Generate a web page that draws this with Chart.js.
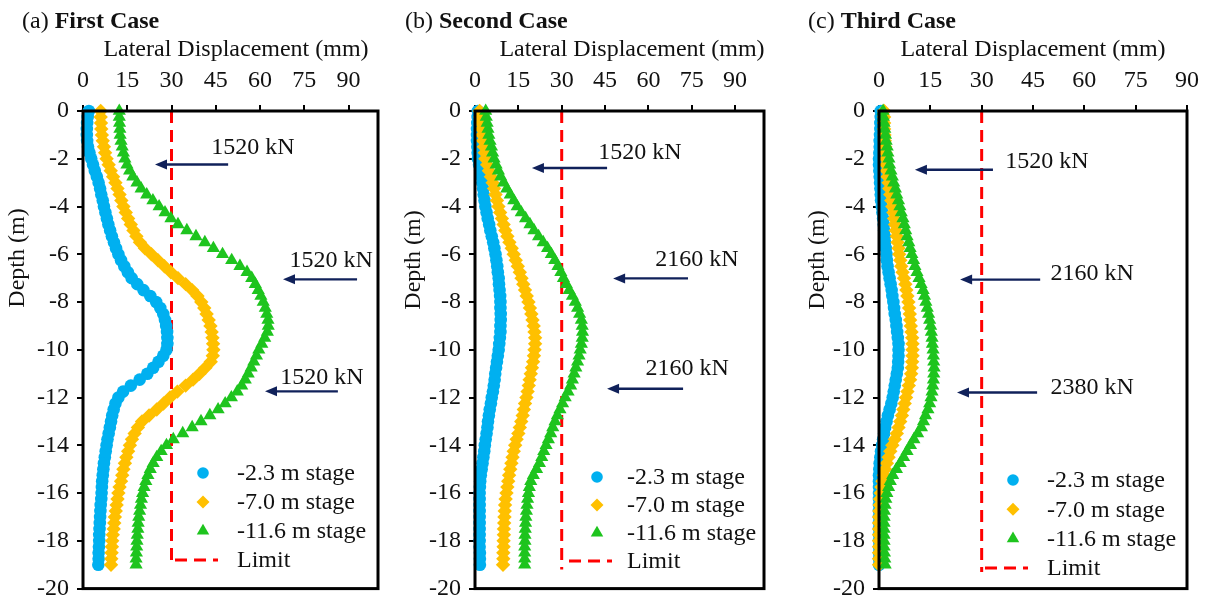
<!DOCTYPE html>
<html>
<head>
<meta charset="utf-8">
<script src="https://cdn.jsdelivr.net/npm/chart.js@4.4.0/dist/chart.umd.min.js"></script>
<style>
  html, body { margin: 0; padding: 0; background: #fff; }
  #wrap { position: relative; width: 1211px; height: 611px; }
  #wrap canvas { position: absolute; top: 0; }
</style>
</head>
<body>
<div id="wrap">
  <canvas id="c1" width="400" height="611" style="left:0px;width:400px;height:611px"></canvas>
  <canvas id="c2" width="400" height="611" style="left:400px;width:400px;height:611px"></canvas>
  <canvas id="c3" width="411" height="611" style="left:800px;width:411px;height:611px"></canvas>
</div>
<script>
// depth of each reading (m)
const depths = [
  0, -0.25, -0.5, -0.75, -1, -1.25, -1.5, -1.75, -2, -2.25, -2.5, -2.75,
  -3, -3.25, -3.5, -3.75, -4, -4.25, -4.5, -4.75, -5, -5.25, -5.5, -5.75,
  -6, -6.25, -6.5, -6.75, -7, -7.25, -7.5, -7.75, -8, -8.25, -8.5, -8.75,
  -9, -9.25, -9.5, -9.75, -10, -10.25, -10.5, -10.75, -11, -11.25, -11.5, -11.75,
  -12, -12.25, -12.5, -12.75, -13, -13.25, -13.5, -13.75, -14, -14.25, -14.5, -14.75,
  -15, -15.25, -15.5, -15.75, -16, -16.25, -16.5, -16.75, -17, -17.25, -17.5, -17.75,
  -18, -18.25, -18.5, -18.75, -19
];

// (a) First Case - lateral displacement (mm)
const firstStage23 = [
  2.0, 1.6, 1.4, 1.3,  1.3, 1.4, 1.7, 2.2,  2.8, 3.4, 4.0, 4.7,  5.3, 5.8, 6.2, 6.7,
  7.1, 7.6, 8.1, 8.6,  9.2, 9.8, 10.5, 11.2,  12.0, 12.9, 14.0, 15.2,  16.5, 18.4, 20.5, 22.8,
  24.8, 26.2, 27.2, 27.8,  28.2, 28.5, 28.6, 28.6,  28.3, 27.2, 25.6, 23.8,  21.8, 19.2, 16.2, 13.6,
  12.0, 11.0, 10.4, 9.9,  9.5, 9.1, 8.7, 8.3,  8.0, 7.7, 7.4, 7.1,  6.9, 6.7, 6.5, 6.4,
  6.3, 6.2, 6.0, 5.9,  5.8, 5.7, 5.6, 5.5,  5.5, 5.4, 5.3, 5.3,  5.2
];
const firstStage70 = [
  6.0, 6.0, 6.1, 6.2,  6.4, 6.7, 7.1, 7.5,  8.0, 8.7, 9.4, 10.2,  11.0, 11.7, 12.4, 13.0,
  13.7, 14.5, 15.3, 16.2,  17.1, 18.1, 19.3, 21.0,  23.2, 25.4, 27.6, 29.8,  32.2, 34.8, 37.0, 38.8,
  40.1, 41.1, 41.9, 42.6,  43.2, 43.6, 43.9, 44.1,  44.2, 44.0, 43.3, 41.5,  39.5, 37.3, 34.8, 32.0,
  29.5, 27.3, 25.0, 22.4,  20.0, 18.6, 17.5, 16.6,  15.9, 15.3, 14.7, 14.2,  13.7, 13.3, 12.9, 12.4,
  12.0, 11.7, 11.4, 11.1,  10.8, 10.6, 10.4, 10.1,  9.9, 9.8, 9.7, 9.6,  9.5
];
const firstStage116 = [
  12.3, 12.3, 12.4, 12.5,  12.6, 12.9, 13.3, 13.7,  14.2, 14.9, 15.8, 16.9,  18.3, 19.7, 21.6, 23.7,
  25.8, 27.8, 29.8, 32.2,  35.2, 38.3, 41.3, 44.2,  47.3, 50.4, 53.2, 55.6,  57.2, 58.4, 59.4, 60.3,
  61.1, 61.8, 62.3, 62.7,  62.8, 62.5, 61.6, 60.6,  59.6, 58.8, 57.9, 57.0,  56.0, 55.0, 53.8, 52.3,
  50.3, 48.2, 45.8, 43.0,  40.0, 37.0, 33.8, 30.6,  28.3, 26.5, 25.0, 23.8,  22.8, 22.0, 21.3, 20.7,
  20.2, 19.8, 19.5, 19.2,  18.9, 18.7, 18.6, 18.4,  18.3, 18.2, 18.1, 18.0,  18.0
];

// (b) Second Case
const secondStage23 = [
  1.0, 0.9, 0.8, 0.7,  0.7, 0.7, 0.8, 0.9,  1.0, 1.4, 1.8, 2.2,  2.5, 2.8, 3.0, 3.3,
  3.6, 4.0, 4.4, 4.9,  5.3, 5.8, 6.3, 6.7,  7.1, 7.4, 7.7, 7.9,  8.2, 8.3, 8.5, 8.7,
  8.8, 8.8, 8.9, 8.9,  8.8, 8.8, 8.6, 8.4,  8.2, 7.9, 7.6, 7.3,  7.0, 6.8, 6.5, 6.2,
  5.8, 5.5, 5.1, 4.8,  4.5, 4.3, 4.0, 3.7,  3.4, 3.2, 2.9, 2.6,  2.3, 2.0, 1.8, 1.7,
  1.6, 1.6, 1.6, 1.6,  1.6, 1.6, 1.6, 1.6,  1.6, 1.6, 1.7, 1.7,  1.7
];
const secondStage70 = [
  1.6, 1.8, 2.0, 2.3,  2.5, 2.8, 3.1, 3.4,  3.6, 4.2, 4.8, 5.5,  6.1, 6.6, 7.1, 7.6,
  8.1, 8.7, 9.3, 9.9,  10.5, 11.2, 11.9, 12.7,  13.4, 14.1, 14.8, 15.5,  16.1, 16.7, 17.3, 17.9,
  18.5, 19.0, 19.5, 19.9,  20.3, 20.6, 20.8, 20.8,  20.6, 20.4, 20.1, 19.7,  19.3, 18.9, 18.6, 18.2,
  17.8, 17.3, 16.9, 16.5,  16.0, 15.5, 15.0, 14.4,  13.9, 13.4, 13.0, 12.6,  12.2, 11.8, 11.5, 11.2,
  10.9, 10.6, 10.4, 10.3,  10.2, 10.1, 10.0, 10.0,  9.9, 9.9, 9.8, 9.8,  9.7
];
const secondStage116 = [
  3.7, 3.9, 4.2, 4.5,  4.8, 5.2, 5.7, 6.1,  6.6, 7.3, 8.1, 8.9,  9.9, 11.0, 12.2, 13.4,
  14.6, 16.0, 17.5, 19.0,  20.4, 22.0, 23.6, 25.1,  26.4, 27.6, 28.7, 29.7,  30.6, 31.6, 32.6, 33.7,
  34.7, 35.5, 36.2, 36.8,  37.1, 37.2, 37.1, 36.8,  36.4, 36.0, 35.5, 34.9,  34.3, 33.7, 33.1, 32.2,
  31.2, 30.3, 29.4, 28.5,  27.7, 26.9, 26.2, 25.4,  24.6, 23.8, 23.1, 22.3,  21.3, 20.2, 19.3, 18.8,
  18.5, 18.2, 18.0, 17.8,  17.6, 17.5, 17.4, 17.3,  17.3, 17.2, 17.2, 17.2,  17.2
];

// (c) Third Case
const thirdStage23 = [
  0.5, 0.5, 0.4, 0.4,  0.3, 0.2, 0.2, 0.1,  0.0, 0.0, 0.1, 0.2,  0.3, 0.4, 0.5, 0.6,
  0.8, 1.0, 1.2, 1.4,  1.5, 1.7, 1.8, 2.0,  2.2, 2.3, 2.5, 2.8,  3.1, 3.4, 3.7, 3.9,
  4.2, 4.4, 4.6, 4.9,  5.1, 5.3, 5.5, 5.7,  5.7, 5.7, 5.6, 5.5,  5.2, 4.9, 4.6, 4.3,
  4.0, 3.6, 3.1, 2.6,  2.2, 1.8, 1.5, 1.2,  0.9, 0.6, 0.4, 0.2,  0.1, 0.0, 0.0, 0.0,
  0.0, 0.0, 0.0, 0.0,  0.0, 0.0, 0.0, 0.0,  0.0, 0.0, 0.0, 0.0,  0.0
];
const thirdStage70 = [
  1.5, 1.5, 1.5, 1.5,  1.6, 1.7, 1.8, 1.9,  2.0, 2.1, 2.3, 2.5,  2.8, 3.0, 3.3, 3.6,
  3.9, 4.2, 4.4, 4.7,  4.9, 5.2, 5.4, 5.7,  5.9, 6.2, 6.5, 6.9,  7.3, 7.7, 8.0, 8.3,
  8.6, 8.8, 9.0, 9.1,  9.3, 9.5, 9.7, 9.8,  9.8, 9.8, 9.7, 9.6,  9.4, 9.1, 8.7, 8.3,
  7.9, 7.5, 7.1, 6.7,  6.2, 5.7, 5.2, 4.6,  3.9, 3.3, 2.8, 2.3,  1.8, 1.4, 1.0, 0.7,
  0.5, 0.3, 0.2, 0.1,  0.0, 0.0, 0.0, 0.0,  0.0, 0.0, 0.0, 0.0,  0.0
];
const thirdStage116 = [
  1.2, 1.3, 1.5, 1.7,  1.9, 2.1, 2.4, 2.6,  2.9, 3.1, 3.5, 3.9,  4.3, 4.8, 5.2, 5.7,
  6.1, 6.5, 7.0, 7.4,  7.8, 8.2, 8.7, 9.1,  9.6, 10.1, 10.5, 11.1,  11.7, 12.3, 12.9, 13.3,
  13.7, 14.1, 14.5, 14.8,  15.1, 15.3, 15.5, 15.6,  15.8, 15.9, 16.0, 16.1,  16.0, 15.9, 15.7, 15.5,
  15.2, 14.8, 14.3, 13.6,  13.0, 12.4, 11.3, 10.2,  9.2, 8.2, 7.2, 6.2,  5.1, 4.0, 3.3, 2.8,
  2.3, 2.0, 1.8, 1.6,  1.5, 1.5, 1.5, 1.5,  1.5, 1.5, 1.6, 1.7,  1.8
];

const limitValue = 30;
const limitDepths = [[0, -19], [0, -19.2], [0, -19.3]];

const seriesLabels = ['-2.3 m stage', '-7.0 m stage', '-11.6 m stage', 'Limit'];
const caseTags = ['(a) ', '(b) ', '(c) '];
const caseNames = ['First Case', 'Second Case', 'Third Case'];
const loadsFirst = ['1520 kN', '1520 kN', '1520 kN'];
const loadsSecond = ['1520 kN', '2160 kN', '2160 kN'];
const loadsThird = ['1520 kN', '2160 kN', '2380 kN'];

const xTicks = [0, 15, 30, 45, 60, 75, 90];
const yTicks = [0, -2, -4, -6, -8, -10, -12, -14, -16, -18, -20];

const xTitle = 'Lateral Displacement (mm)';
const yTitle = 'Depth (m)';

// ---- styling / layout ----
const FONT = '"Liberation Serif", "Times New Roman", serif';
const colors = ['#00b0f0', '#ffc000', '#1ec41e', '#ff0000'];
const arrowColor = '#10215a';

const panels = [
  {
    canvas: 'c1', w: 400, area: { left: 83, top: 111, right: 378, bottom: 593 }, xMax: 100,
    series: [firstStage23, firstStage70, firstStage116], limit: limitDepths[0], loads: loadsFirst,
    titleX: 22, xTitleX: 236, yTitleX: 18, yTitleY: 258,
    arrows: [
      { depth: -2.24, from: 49.2, to: 24.4, lx: 57.6, ly: -1.54 },
      { depth: -7.05, from: 92.9, to: 67.8, lx: 84.1, ly: -6.27 },
      { depth: -11.74, from: 86.4, to: 61.7, lx: 81.0, ly: -11.16 }
    ],
    legend: { x: 203, y: 473, gap: 29, text: 237 }
  },
  {
    canvas: 'c2', w: 400, area: { left: 75, top: 111, right: 364, bottom: 596 }, xMax: 100,
    series: [secondStage23, secondStage70, secondStage116], limit: limitDepths[1], loads: loadsSecond,
    titleX: 5, xTitleX: 232, yTitleX: 14, yTitleY: 260,
    arrows: [
      { depth: -2.39, from: 45.7, to: 19.7, lx: 57.1, ly: -1.73 },
      { depth: -7.01, from: 73.7, to: 47.8, lx: 76.8, ly: -6.23 },
      { depth: -11.63, from: 72.0, to: 45.7, lx: 73.4, ly: -10.8 }
    ],
    legend: { x: 197, y: 477, gap: 28, text: 227 }
  },
  {
    canvas: 'c3', w: 411, area: { left: 79, top: 111, right: 387, bottom: 598 }, xMax: 90,
    series: [thirdStage23, thirdStage70, thirdStage116], limit: limitDepths[2], loads: loadsThird,
    titleX: 8, xTitleX: 233, yTitleX: 18, yTitleY: 260,
    arrows: [
      { depth: -2.46, from: 33.3, to: 10.5, lx: 49.1, ly: -2.14 },
      { depth: -7.06, from: 47.1, to: 23.7, lx: 62.3, ly: -6.82 },
      { depth: -11.79, from: 46.2, to: 22.8, lx: 62.3, ly: -11.58 }
    ],
    legend: { x: 213, y: 480, gap: 29.3, text: 247 }
  }
];

const pointStyles = ['circle', 'rectRot', 'triangle'];
const pointSizes = [6.3, 7.2, 7.6];
const legendSizes = [5.8, 6.5, 7.2];

function decor(p, idx) {
  return {
    id: 'decor' + idx,
    afterDatasetsDraw(chart) {
      const ctx = chart.ctx, a = chart.chartArea;
      const xs = chart.scales.x, ys = chart.scales.y;
      ctx.save();
      // plot frame
      ctx.strokeStyle = '#000';
      ctx.lineWidth = 3;
      ctx.strokeRect(a.left, a.top, a.right - a.left, a.bottom - a.top);

      // load arrows
      ctx.font = '24px ' + FONT;
      ctx.textAlign = 'center';
      ctx.textBaseline = 'middle';
      p.arrows.forEach((ar, i) => {
        const y = ys.getPixelForValue(ar.depth);
        const x1 = xs.getPixelForValue(ar.from), x2 = xs.getPixelForValue(ar.to);
        ctx.strokeStyle = arrowColor;
        ctx.fillStyle = arrowColor;
        ctx.lineWidth = 2.4;
        ctx.beginPath();
        ctx.moveTo(x1, y);
        ctx.lineTo(x2 + 8, y);
        ctx.stroke();
        ctx.beginPath();
        ctx.moveTo(x2, y);
        ctx.lineTo(x2 + 12, y - 5);
        ctx.lineTo(x2 + 12, y + 5);
        ctx.closePath();
        ctx.fill();
        ctx.fillStyle = '#111';
        ctx.fillText(p.loads[i], xs.getPixelForValue(ar.lx), ys.getPixelForValue(ar.ly));
      });

      // legend
      const L = p.legend;
      ctx.textAlign = 'left';
      chart.data.datasets.forEach((ds, i) => {
        const y = L.y + i * L.gap;
        if (i < 3) {
          ctx.fillStyle = colors[i];
          Chart.helpers.drawPoint(ctx, { pointStyle: pointStyles[i], radius: legendSizes[i], rotation: 0, borderWidth: 0 }, L.x, y);
        } else {
          ctx.strokeStyle = colors[3];
          ctx.lineWidth = 3;
          ctx.setLineDash([12, 7]);
          ctx.beginPath();
          ctx.moveTo(L.x - 28, y);
          ctx.lineTo(L.x + 15, y);
          ctx.stroke();
          ctx.setLineDash([]);
        }
        ctx.fillStyle = '#111';
        ctx.fillText(ds.label, L.text, y + 1);
      });
      ctx.restore();
    },
    afterDraw(chart) {
      const ctx = chart.ctx;
      ctx.save();
      ctx.fillStyle = '#111';
      ctx.textBaseline = 'alphabetic';
      // panel title: tag normal, name bold
      ctx.textAlign = 'left';
      ctx.font = '24px ' + FONT;
      ctx.fillText(caseTags[idx], p.titleX, 28);
      const tw = ctx.measureText(caseTags[idx]).width;
      ctx.font = 'bold 24px ' + FONT;
      ctx.fillText(caseNames[idx], p.titleX + tw, 28);
      // axis titles
      ctx.font = '24px ' + FONT;
      ctx.textAlign = 'center';
      ctx.fillText(xTitle, p.xTitleX, 56);
      ctx.translate(p.yTitleX, p.yTitleY);
      ctx.rotate(-Math.PI / 2);
      ctx.textBaseline = 'middle';
      ctx.fillText(yTitle, 0, 0);
      ctx.restore();
    }
  };
}

panels.forEach((p, idx) => {
  const datasets = p.series.map((vals, i) => ({
    label: seriesLabels[i],
    data: depths.map((d, k) => ({ x: vals[k], y: d })),
    showLine: false,
    pointStyle: pointStyles[i],
    pointRadius: pointSizes[i],
    pointBackgroundColor: colors[i],
    pointBorderWidth: 0,
    order: 3 - i,
    clip: false
  }));
  datasets.push({
    label: seriesLabels[3],
    data: p.limit.map(d => ({ x: limitValue, y: d })),
    showLine: true,
    borderColor: colors[3],
    borderWidth: 3,
    borderDash: [12, 7],
    pointRadius: 0,
    order: 5
  });

  new Chart(document.getElementById(p.canvas), {
    type: 'scatter',
    data: { datasets },
    options: {
      responsive: false,
      animation: false,
      events: [],
      layout: { padding: { left: 0, top: 0, right: p.w - p.area.right, bottom: 611 - p.area.bottom } },
      plugins: { legend: { display: false }, tooltip: { enabled: false } },
      scales: {
        x: {
          type: 'linear', position: 'top', min: 0, max: p.xMax,
          afterBuildTicks: s => { s.ticks = xTicks.map(v => ({ value: v })); },
          afterFit: s => { s.height = p.area.top; },
          grid: { drawOnChartArea: false, drawTicks: true, tickLength: 6, color: '#000', lineWidth: 2 },
          border: { display: false },
          ticks: { color: '#111', font: { family: FONT, size: 24 }, padding: 10, maxRotation: 0 }
        },
        y: {
          type: 'linear', min: -20, max: 0,
          afterBuildTicks: s => { s.ticks = yTicks.map(v => ({ value: v })); },
          afterFit: s => { s.width = p.area.left; },
          grid: { drawOnChartArea: false, drawTicks: true, tickLength: 6, color: '#000', lineWidth: 2 },
          border: { display: false },
          ticks: { color: '#111', font: { family: FONT, size: 24 }, padding: 8,
                   callback: v => String(v) }
        }
      }
    },
    plugins: [decor(p, idx)]
  });
});
</script>
</body>
</html>
